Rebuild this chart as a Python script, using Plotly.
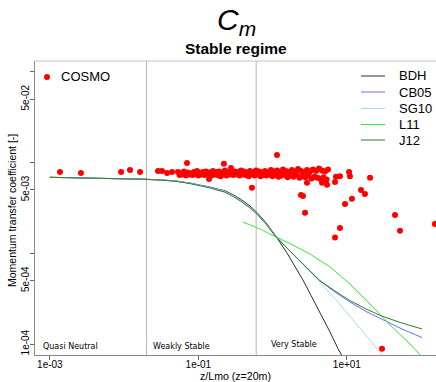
import math
import plotly.graph_objects as go

# ---------------- data ----------------
cosmo_x = [
    0.00137, 0.00262, 0.0091, 0.012, 0.0164, 0.0286, 0.0324, 0.0378, 0.0442,
    0.0703, 0.139, 0.221, 0.275, 0.527, 1.145, 2.41, 2.56, 2.73, 2.90, 4.62,
    4.77, 5.40, 6.92, 7.13, 8.07, 10.7, 11.0, 9.44, 11.7, 15.5, 17.5, 20.5,
    8.07, 6.92, 44.5, 51.9, 153.0, 29.7,
    # dense band, upper row
    0.0532, 0.0584, 0.064, 0.0725, 0.0796, 0.0873, 0.0958, 0.105, 0.115, 0.127,
    0.143, 0.157, 0.173, 0.190, 0.208, 0.228, 0.251, 0.284, 0.311, 0.342,
    0.375, 0.412, 0.452, 0.496, 0.544, 0.597, 0.655, 0.719, 0.789, 0.866,
    0.951, 1.04, 1.15, 1.26, 1.38, 1.51, 1.66, 1.82, 2.00, 2.20,
    2.41, 2.65, 2.90, 3.19, 3.50, 3.84, 4.21, 4.62, 5.07, 5.57,
    # dense band, lower row
    0.0558, 0.0612, 0.0682, 0.076, 0.0834, 0.0915, 0.100, 0.110, 0.121, 0.135,
    0.150, 0.165, 0.181, 0.199, 0.218, 0.239, 0.267, 0.297, 0.326, 0.358,
    0.393, 0.431, 0.474, 0.520, 0.570, 0.626, 0.687, 0.754, 0.827, 0.908,
    0.996, 1.09, 1.20, 1.32, 1.45, 1.59, 1.74, 1.91, 2.10, 2.30,
    2.53, 2.77, 3.04, 3.34, 3.67, 4.02, 4.41, 4.84, 5.32,
]
cosmo_y = [
    0.0079, 0.0077, 0.0079, 0.0083, 0.0079, 0.0081, 0.0081, 0.0077, 0.0079,
    0.0099, 0.0066, 0.0097, 0.0087, 0.0053, 0.0121, 0.0044, 0.0043, 0.0028, 0.0060, 0.0060,
    0.0064, 0.0057, 0.0061, 0.0070, 0.0071, 0.0079, 0.0071, 0.0035, 0.0040, 0.0050, 0.0045, 0.0068,
    0.0019, 0.0015, 0.00265, 0.00177, 0.00211, 0.000089,
    0.0079, 0.0077, 0.0080, 0.0078, 0.0076, 0.0079, 0.0081, 0.0077, 0.0079, 0.0080,
    0.0078, 0.0081, 0.0079, 0.0080, 0.0078, 0.0082, 0.0079, 0.0081, 0.0080, 0.0079,
    0.0082, 0.0080, 0.0078, 0.0081, 0.0079, 0.0082, 0.0080, 0.0078, 0.0081, 0.0079,
    0.0083, 0.0080, 0.0082, 0.0079, 0.0084, 0.0081, 0.0079, 0.0083, 0.0080, 0.0085,
    0.0081, 0.0079, 0.0083, 0.0080, 0.0084, 0.0081, 0.0086, 0.0082, 0.0080, 0.0084,
    0.0073, 0.0074, 0.0072, 0.0074, 0.0073, 0.0075, 0.0072, 0.0074, 0.0073, 0.0075,
    0.0072, 0.0074, 0.0073, 0.0071, 0.0074, 0.0072, 0.0074, 0.0073, 0.0075, 0.0072,
    0.0074, 0.0073, 0.0071, 0.0074, 0.0072, 0.0074, 0.0071, 0.0073, 0.0072, 0.0074,
    0.0071, 0.0073, 0.0070, 0.0072, 0.0074, 0.0069, 0.0072, 0.0070, 0.0073, 0.0068,
    0.0071, 0.0069, 0.0072, 0.0067, 0.0070, 0.0068, 0.0066, 0.0069, 0.0065,
]

bdh_x = [0.001, 0.00473, 0.0191, 0.0304, 0.0484, 0.0771, 0.105, 0.143, 0.178, 0.228, 0.293, 0.375, 0.496, 0.616, 0.814, 1.076,
         1.562, 2.00, 2.56, 3.29, 4.34, 5.74, 7.59, 9.72]
bdh_y = [6.89e-3, 6.77e-3, 6.56e-3, 6.46e-3, 6.29e-3, 5.95e-3, 5.68e-3, 5.38e-3, 5.13e-3, 4.90e-3, 4.44e-3, 3.93e-3, 3.33e-3, 2.82e-3, 2.18e-3, 1.60e-3,
         1.01e-3, 7.26e-4, 5.09e-4, 3.43e-4, 2.26e-4, 1.43e-4, 8.94e-5, 6.19e-5]

cb05_x = [0.001, 0.00473, 0.0191, 0.0304, 0.0484, 0.0771, 0.105, 0.143, 0.178, 0.228, 0.293, 0.375, 0.496, 0.616, 0.814, 1.076,
          1.713, 2.73, 4.34, 6.92, 11.0, 18.1, 30.6, 55.2, 102.6]
cb05_y = [6.89e-3, 6.77e-3, 6.55e-3, 6.44e-3, 6.27e-3, 5.92e-3, 5.64e-3, 5.32e-3, 5.06e-3, 4.81e-3, 4.34e-3, 3.83e-3, 3.24e-3, 2.75e-3, 2.13e-3, 1.574e-3,
          1.062e-3, 7.17e-4, 4.96e-4, 3.75e-4, 2.91e-4, 2.287e-4, 1.843e-4, 1.467e-4, 1.183e-4]

sg10_x = [0.001, 0.00473, 0.0191, 0.0304, 0.0484, 0.0771, 0.105, 0.143, 0.178, 0.228, 0.293, 0.375, 0.496, 0.616, 0.814, 1.076,
          1.713, 2.73, 4.34, 7.36, 12.09, 19.2, 26.2, 32.6]
sg10_y = [6.89e-3, 6.77e-3, 6.55e-3, 6.44e-3, 6.27e-3, 5.92e-3, 5.64e-3, 5.32e-3, 5.06e-3, 4.81e-3, 4.34e-3, 3.83e-3, 3.24e-3, 2.75e-3, 2.13e-3, 1.574e-3,
          1.062e-3, 7.17e-4, 4.78e-4, 2.99e-4, 1.843e-4, 1.198e-4, 8.83e-5, 7.03e-5]

l11_x = [0.399, 0.676, 1.076, 1.713, 3.18, 5.93, 11.0, 20.5, 38.1, 70.8, 102.6]
l11_y = [2.216e-3, 1.856e-3, 1.535e-3, 1.285e-3, 9.84e-4, 7.08e-4, 4.60e-4, 2.77e-4, 1.626e-4, 1.003e-4, 7.2e-5]

j12_x = [0.001, 0.00473, 0.0191, 0.0304, 0.0484, 0.0771, 0.105, 0.143, 0.178, 0.228, 0.293, 0.375, 0.496, 0.616, 0.814, 1.076,
         1.713, 2.73, 4.34, 6.92, 11.0, 18.1, 30.6, 55.2, 102.6]
j12_y = [6.89e-3, 6.77e-3, 6.55e-3, 6.42e-3, 6.24e-3, 5.88e-3, 5.59e-3, 5.26e-3, 4.99e-3, 4.72e-3, 4.24e-3, 3.74e-3, 3.16e-3, 2.70e-3, 2.10e-3, 1.56e-3,
         1.062e-3, 7.20e-4, 5.00e-4, 3.85e-4, 3.02e-4, 2.436e-4, 2.014e-4, 1.709e-4, 1.467e-4]

regime_bounds = [0.02, 0.6]
regime_labels = ["Quasi Neutral", "Weakly Stable", "Very Stable"]

x_tickvals = [1e-3, 1e-1, 1e1]
x_ticktext = ["1e-03", "1e-01", "1e+01"]
y_tickvals = [1e-4, 5e-4, 5e-3, 5e-2]
y_ticktext = ["1e-04", "5e-04", "5e-03", "5e-02"]
y_minor_tickvals = [1e-3, 1e-2, 1e-1]

model_names = ["BDH", "CB05", "SG10", "L11", "J12"]
model_colors = ["#2b2b2b", "#6b6bff", "#add8e6", "#33ee33", "#2f7f2f"]

# ---------------- figure ----------------
FONT = "Liberation Sans, Arial, sans-serif"
W, H = 436, 382
ML, MR, MT, MB = 35, 0, 61, 27
PW, PH = W - ML - MR, H - MT - MB


def px_x(p):  # pixel -> paper x
    return (p - ML) / PW


def px_y(p):  # pixel -> paper y
    return (H - MB - p) / PH


fig = go.Figure()

# regime boundary lines
for b in regime_bounds:
    fig.add_trace(go.Scatter(x=[b, b], y=[1e-6, 1.0], mode="lines",
                             line=dict(color="#b4b4b4", width=1),
                             showlegend=False, hoverinfo="skip"))

fig.add_trace(go.Scatter(x=cosmo_x, y=cosmo_y, mode="markers", name="COSMO",
                         marker=dict(color="#ff0000", size=6, line=dict(width=0)),
                         showlegend=False))

series = [(bdh_x, bdh_y), (cb05_x, cb05_y), (sg10_x, sg10_y), (l11_x, l11_y), (j12_x, j12_y)]
for (sx, sy), nm, col in zip(series, model_names, model_colors):
    fig.add_trace(go.Scatter(x=sx, y=sy, mode="lines", name=nm,
                             line=dict(color=col, width=1),
                             showlegend=False))

annotations = []
shapes = []

# titles
annotations.append(dict(text="<i>C<sub>m</sub></i>", xref="paper", yref="paper",
                        x=px_x(236), y=px_y(22), xanchor="center", yanchor="middle",
                        showarrow=False, font=dict(family=FONT, size=30, color="#000")))
annotations.append(dict(text="<b>Stable regime</b>", xref="paper", yref="paper",
                        x=px_x(236), y=px_y(49), xanchor="center", yanchor="middle",
                        showarrow=False, font=dict(family=FONT, size=15.5, color="#000")))
# axis titles
annotations.append(dict(text="z/Lmo (z=20m)", xref="paper", yref="paper",
                        x=px_x(235.5), y=px_y(376), xanchor="center", yanchor="middle",
                        showarrow=False, font=dict(family=FONT, size=10.6, color="#000")))
annotations.append(dict(text="Momentum transfer coefficient [-]", xref="paper", yref="paper",
                        x=px_x(12), y=px_y(211), xanchor="center", yanchor="middle",
                        textangle=-90, showarrow=False,
                        font=dict(family=FONT, size=10.5, color="#000")))

# regime labels
lab_px = [(41, 346.5), (151, 346.5), (269, 344)]
for t, (lx, ly) in zip(regime_labels, lab_px):
    annotations.append(dict(text=t, xref="paper", yref="paper", x=px_x(lx), y=px_y(ly),
                            xanchor="left", yanchor="middle", showarrow=False,
                            font=dict(family="DejaVu Sans", size=8, color="#000")))

# left legend (COSMO)
shapes.append(dict(type="circle", xref="paper", yref="paper", xsizemode="pixel", ysizemode="pixel",
                   xanchor=px_x(47), yanchor=px_y(77), x0=-3, x1=3, y0=-3, y1=3,
                   fillcolor="#ff0000", line=dict(width=0)))
annotations.append(dict(text="COSMO", xref="paper", yref="paper", x=px_x(58.5), y=px_y(77),
                        xanchor="left", yanchor="middle", showarrow=False,
                        font=dict(family=FONT, size=13, color="#000")))

# right legend (models)
leg_y = [76, 92, 108.5, 124.5, 140]
for nm, col, ly in zip(model_names, model_colors, leg_y):
    shapes.append(dict(type="line", xref="paper", yref="paper",
                       x0=px_x(361), x1=px_x(385), y0=px_y(ly), y1=px_y(ly),
                       line=dict(color=col, width=1)))
    annotations.append(dict(text=nm, xref="paper", yref="paper", x=px_x(396.5), y=px_y(ly),
                            xanchor="left", yanchor="middle", showarrow=False,
                            font=dict(family=FONT, size=13, color="#000")))

# top border
shapes.append(dict(type="line", xref="paper", yref="paper", x0=0, x1=1, y0=1, y1=1,
                   line=dict(color="#c4c4c4", width=1)))

fig.update_layout(
    width=W, height=H,
    margin=dict(l=ML, r=MR, t=MT, b=MB, pad=0),
    paper_bgcolor="white", plot_bgcolor="white",
    showlegend=False,
    annotations=annotations, shapes=shapes,
    xaxis=dict(type="log", range=[-3.2, 2.2], tickvals=x_tickvals, ticktext=x_ticktext,
               ticks="outside", ticklen=4, tickcolor="#666", showline=True, linecolor="#8a8a8a",
               linewidth=1, showgrid=False, zeroline=False, ticklabelstandoff=-4,
               tickfont=dict(family=FONT, size=10, color="#000")),
    yaxis=dict(type="log", range=[-4.12, -0.88], tickvals=y_tickvals, ticktext=y_ticktext,
               ticks="outside", ticklen=4, tickcolor="#666", showline=True, linecolor="#8a8a8a",
               linewidth=1, showgrid=False, zeroline=False, tickangle=-90, ticklabelstandoff=-3,
               minor=dict(tickmode="array", tickvals=y_minor_tickvals, ticks="outside",
                          ticklen=4, tickcolor="#666", showgrid=False),
               tickfont=dict(family=FONT, size=10, color="#000")),
)

fig.write_html("out.html")
